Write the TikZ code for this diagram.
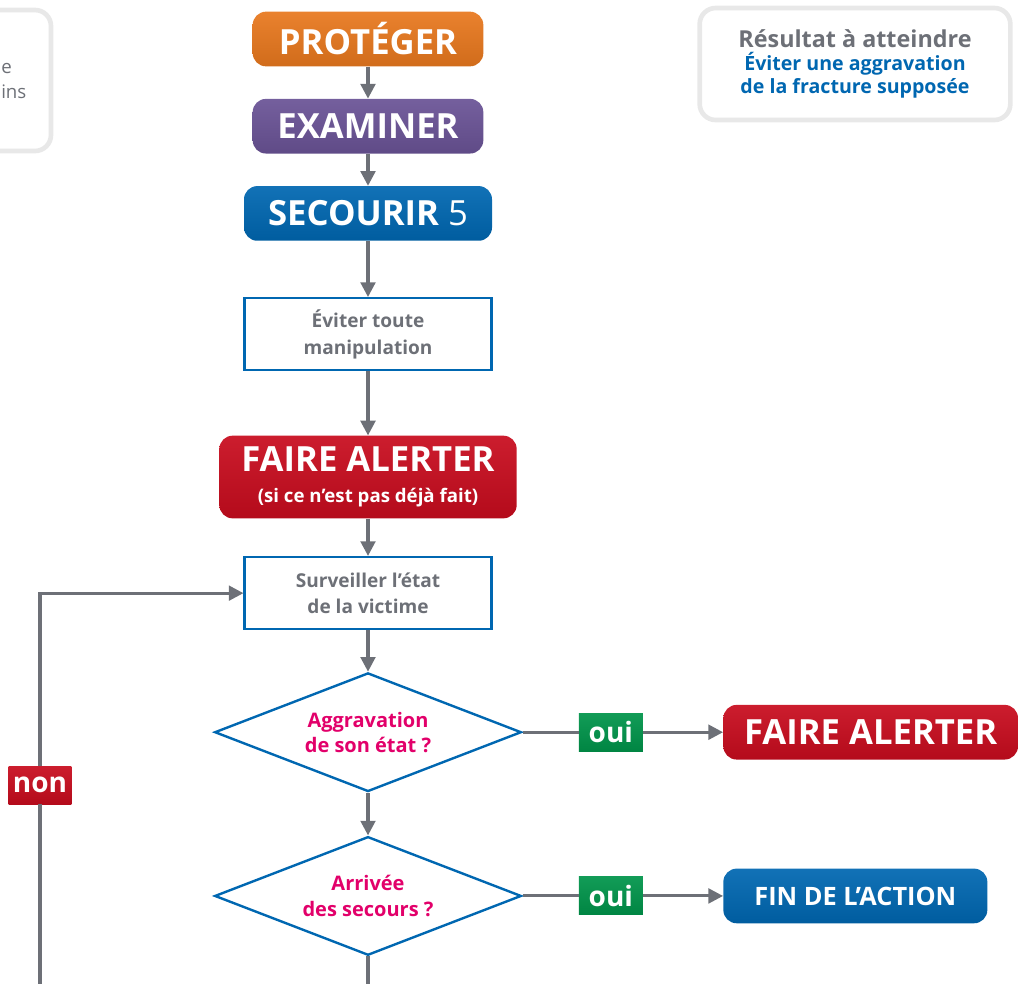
\documentclass[tikz,border=0pt]{standalone}
\usepackage{fontspec}
\setmainfont{Open Sans}
\usepackage{tikz}
\usetikzlibrary{arrows.meta, positioning, shapes.geometric}
\definecolor{protOrange}{RGB}{232,120,30}
\definecolor{examPurple}{RGB}{106,83,150}
\definecolor{secBlue}{RGB}{0,103,177}
\definecolor{alertRed}{RGB}{200,12,30}
\definecolor{ouiGreen}{RGB}{0,148,74}
\definecolor{lineGray}{RGB}{109,112,119}
\definecolor{askPink}{RGB}{226,0,106}
\tikzstyle{gloss}=[top color=#1!93!white, middle color=#1, bottom color=#1!90!black]
\tikzstyle{title}=[rectangle, rounded corners=10pt, text=white, inner sep=0pt, minimum height=41pt, font=\bfseries\fontsize{26}{28}\selectfont]
\tikzstyle{stepbox}=[rectangle, draw=secBlue, line width=1.8pt, fill=white, text=lineGray, align=center, minimum width=185pt, minimum height=54pt, font=\bfseries\fontsize{14.3}{20}\selectfont]
\tikzstyle{ask}=[diamond, aspect=2.55, draw=secBlue, line width=1.8pt, text=askPink, align=center, inner sep=0pt, minimum width=230pt, minimum height=89pt, font=\bfseries\fontsize{15}{19}\selectfont]
\tikzstyle{tag}=[rectangle, text=white, inner sep=0pt, minimum height=28.5pt, font=\bfseries\fontsize{21}{22}\selectfont]
\tikzstyle{softbox}=[draw=black!9, line width=3.5pt, fill=white, rounded corners=12pt]
\tikzstyle{flow}=[draw=lineGray, line width=2.3pt, -{Triangle[length=11pt,width=11pt]}]
\tikzstyle{link}=[draw=lineGray, line width=2.3pt]

\begin{document}
\begin{tikzpicture}[x=0.75pt, y=-0.75pt, node distance=24pt]
  \useasboundingbox (0,0) rectangle (1019,983);
  \clip (0,0) rectangle (1019,983);

  % side boxes
  \draw[softbox] (-60,10) rectangle (51,151);
  \node[anchor=west, inner sep=0pt, text=lineGray, font=\fontsize{14}{16}\selectfont] (sideA) at (1,68) {e};
  \node[anchor=west, inner sep=0pt, text=lineGray, font=\fontsize{14}{16}\selectfont] (sideB) at (1,92) {ins};
  \node[softbox, minimum width=233pt, minimum height=84pt, align=center,
        font=\bfseries\fontsize{14.7}{17.5}\selectfont] (result) at (855,64)
        {{\color{lineGray}\fontsize{17.5}{19}\selectfont Résultat à atteindre}\\
         {\color{secBlue}Éviter une aggravation}\\
         {\color{secBlue}de la fracture supposée}};

  % main column
  \node[title, gloss=protOrange, minimum width=173pt] (prot) at (368,39) {PROTÉGER};
  \node[title, gloss=examPurple, minimum width=173pt] (exam) [below=of prot] {EXAMINER};
  \node[title, gloss=secBlue, minimum width=186pt] (secour) [below=of exam] {SECOURIR \mdseries 5};
  \node[stepbox] (manip) [below=42pt of secour] {Éviter toute\\manipulation};
  \node[title, gloss=alertRed, minimum width=223pt, minimum height=62pt, align=center] (alert) [below=48pt of manip]
        {FAIRE ALERTER\\[-5pt]{\fontsize{14}{16}\selectfont (si ce n’est pas déjà fait)}};
  \node[stepbox] (surv) [below=28pt of alert] {Surveiller l’état\\de la victime};
  \node[ask] (aggr) [below=31pt of surv] {Aggravation\\de son état ?};
  \node[ask] (arriv) [below=32pt of aggr] {Arrivée\\des secours ?};

  % answers
  \node[tag, gloss=ouiGreen, minimum width=48pt] (ouiA) [right=42pt of aggr] {oui};
  \node[title, gloss=alertRed, minimum width=221pt] (alertB) [right=60pt of ouiA] {FAIRE ALERTER};
  \node[tag, gloss=ouiGreen, minimum width=48pt] (ouiB) [right=42pt of arriv] {oui};
  \node[title, gloss=secBlue, minimum width=198pt, font=\bfseries\fontsize{19}{22}\selectfont] (fin) [right=60pt of ouiB] {FIN DE L’ACTION};
  \node[tag, gloss=alertRed, minimum width=47pt] (non) at (40,785) {non};
  \coordinate (endA) at (368,990);
  \coordinate (endB) at (40,990);

  % connectors
  \draw[flow] (prot) -- (exam);
  \draw[flow] (exam) -- (secour);
  \draw[flow] (secour) -- (manip);
  \draw[flow] (manip) -- (alert);
  \draw[flow] (alert) -- (surv);
  \draw[flow] (surv) -- (aggr);
  \draw[flow] (aggr) -- (arriv);
  \draw[link] (aggr) -- (ouiA);
  \draw[flow] (ouiA) -- (alertB);
  \draw[link] (arriv) -- (ouiB);
  \draw[flow] (ouiB) -- (fin);
  \draw[link] (arriv) -- (endA);
  \draw[link] (endB) -- (non);
  \draw[flow] (non) |- (surv);
\end{tikzpicture}
\end{document}
